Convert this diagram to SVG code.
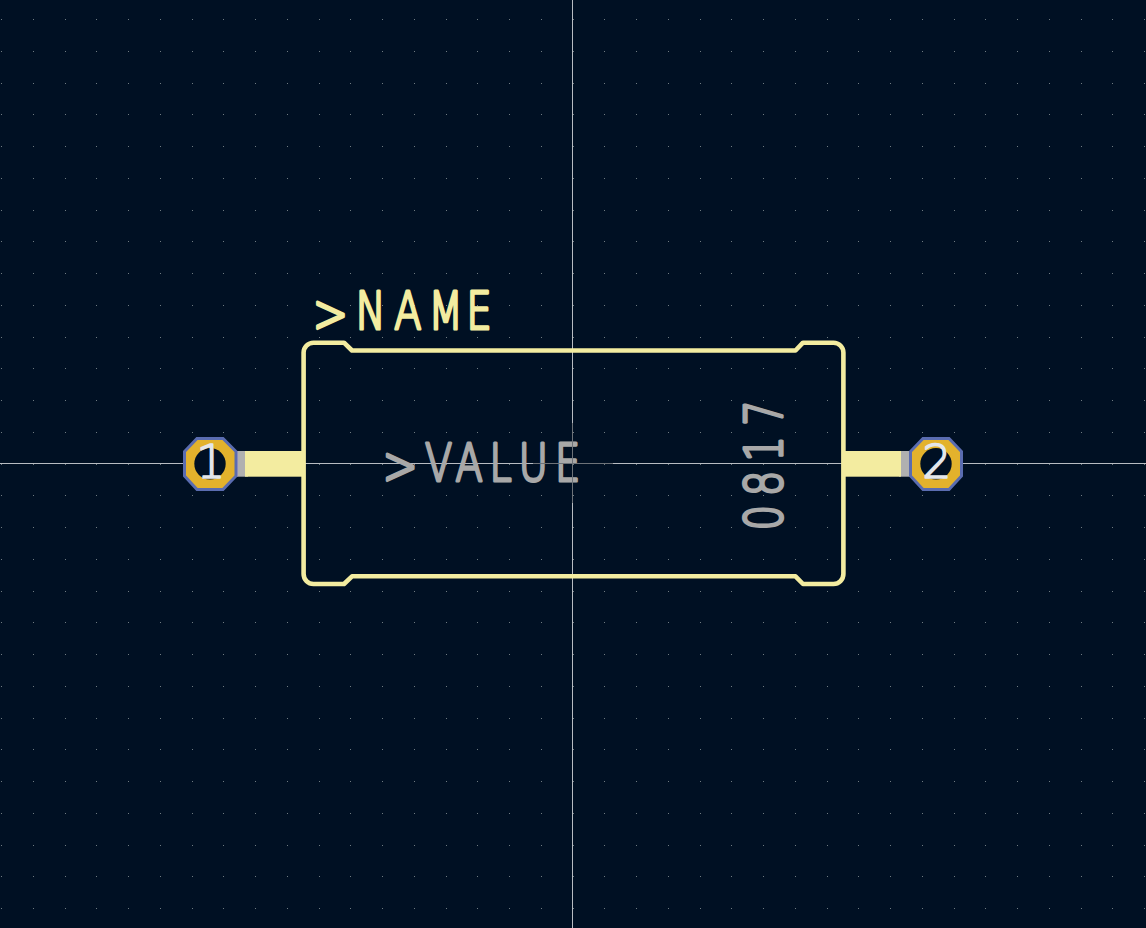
<svg xmlns="http://www.w3.org/2000/svg" width="1146" height="928" viewBox="0 0 1146 928">
<style>
.grid{fill:none;stroke:#6f7b81;stroke-width:1;stroke-dasharray:1 30.75;shape-rendering:crispEdges}
.cross{stroke:#b8bcc2;stroke-width:1;shape-rendering:crispEdges}
.dim{stroke:#6d7278;stroke-width:1;shape-rendering:crispEdges}
.sk{fill:none;stroke:#f3eca0;stroke-width:4.6;stroke-linejoin:round}
.t{font-family:"DejaVu Sans","Liberation Sans",sans-serif;font-weight:200;font-size:51px;stroke-width:3.2px;stroke-linejoin:round;stroke-linecap:round}
.y{fill:#f3eca0;stroke:#f3eca0}
.g{fill:#a8a8a8;stroke:#a8a8a8}
.pad{fill:#e3b22c;stroke:#5a6cb0;stroke-width:3}
.hole{fill:#001023}
.num{font-family:"DejaVu Sans","Liberation Sans",sans-serif;font-weight:200;font-size:46px;fill:#e3e6ea;stroke:#e3e6ea;stroke-width:1.6px;stroke-linejoin:round;text-anchor:middle}
</style>
<rect width="1146" height="928" fill="#001023"/>
<g id="grid"><path class="grid" d="M1 19.5H1146M1 51.25H1146M1 83H1146M1 114.75H1146M1 146.5H1146M1 178.25H1146M1 210H1146M1 241.75H1146M1 273.5H1146M1 305.25H1146M1 337H1146M1 368.75H1146M1 400.5H1146M1 432.25H1146M1 464H1146M1 495.75H1146M1 527.5H1146M1 559.25H1146M1 591H1146M1 622.75H1146M1 654.5H1146M1 686.25H1146M1 718H1146M1 749.75H1146M1 781.5H1146M1 813.25H1146M1 845H1146M1 876.75H1146M1 908.5H1146"/></g>
<g id="crosshair"><path class="cross" d="M572.5 0V928M0 463.5H1146"/></g>
<g id="pad-1">
<rect x="234" y="451" width="14" height="25.7" fill="#b0b0b0"/>
<rect x="234" y="451" width="3.5" height="25.7" fill="#c8a0d8"/>
<polygon class="pad" points="197,438.5 223,438.5 236,451.5 236,476 223,489.5 197,489.5 184.5,476 184.5,451.5"/>
<circle class="hole" cx="210" cy="463.8" r="15.7"/>
<text class="num" x="211" y="478">1</text>
</g>
<g id="pad-2">
<rect x="899" y="451" width="14" height="25.7" fill="#b0b0b0"/>
<rect x="909" y="451" width="3.5" height="25.7" fill="#c8a0d8"/>
<polygon class="pad" points="923,438.5 949,438.5 961.5,451.5 961.5,476 949,489.5 923,489.5 910.5,476 910.5,451.5"/>
<circle class="hole" cx="936" cy="463.8" r="15.7"/>
<text class="num" x="937" y="478">2</text>
</g>
<g id="body">
<rect x="245" y="451" width="59" height="25.7" fill="#f3eca0"/>
<rect x="843" y="451" width="58" height="25.7" fill="#f3eca0"/>
<path class="sk" d="M352 350.5H795.5L803 342.7H833.5A9.9 9.9 0 0 1 843.4 352.6V574.1A9.9 9.9 0 0 1 833.5 584H803L795.5 576.3H352L344 584H313.5A9.9 9.9 0 0 1 303.6 574.1V352.6A9.9 9.9 0 0 1 313.5 342.7H344Z"/>
</g>
<g id="labels">
<text class="t y" transform="translate(0 328.5) scale(.78 1)"><tspan x="401" dy="3" font-size="54">&gt;</tspan><tspan x="456 505.5 549.5 598" dy="-3">NAME</tspan></text>
<text class="t g" transform="translate(0 480.5) scale(.78 1)"><tspan x="490.5" dy="3" font-size="54">&gt;</tspan><tspan x="545 584 627.5 665 711.5" dy="-3">VALUE</tspan></text>
<text class="t g" transform="translate(782 531) rotate(-90) scale(.78 1)" x="1 45 89 135">0817</text>
</g>
<g id="anchor"><path class="dim" d="M572.5 423V503M533 463.5H613"/></g>
</svg>
